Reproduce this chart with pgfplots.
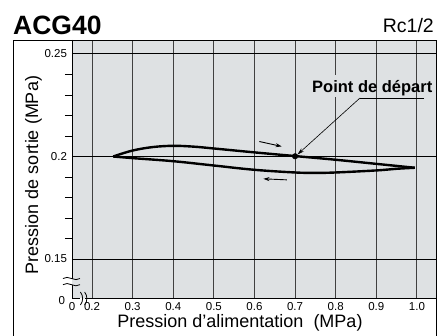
\documentclass[border=0pt]{standalone}
\usepackage{fontspec}
\setmainfont{Liberation Sans}
\usepackage{pgfplots}
\pgfplotsset{compat=1.18}
\usetikzlibrary{arrows.meta}
\definecolor{plotbg}{RGB}{222,225,227}
\begin{document}
\begin{tikzpicture}[x=1pt,y=1pt]
\useasboundingbox (0,0) rectangle (437,336);
\begin{axis}[
  at={(72pt,38pt)}, anchor=south west,
  scale only axis, width=364pt, height=258pt,
  xmin=0.1507, xmax=1.047, ymin=0.131, ymax=0.2568,
  axis background/.style={fill=plotbg},
  axis line style={draw=none},
  xtick={0.2,0.3,0.4,0.5,0.6,0.7,0.8,0.9,1.0},
  xticklabels={0.2,0.3,0.4,0.5,0.6,0.7,0.8,0.9,1.0},
  ytick={0.15,0.2,0.25},
  yticklabels={0.15,0.2,0.25},
  minor ytick={0.16,0.17,0.18,0.19,0.21,0.22,0.23,0.24},
  major tick length=0pt, minor tick length=7pt, tick align=outside,
  minor tick style={line width=0.8pt, black},
  xmajorgrids, ymajorgrids,
  x grid style={line width=0.9pt, black!75},
  y grid style={line width=0.9pt, black},
  extra x ticks={0.1507}, extra x tick labels={0},
  extra x tick style={grid=none},
  extra y ticks={0.131}, extra y tick labels={0},
  extra y tick style={grid=none, yticklabel style={yshift=-3pt, xshift=-2pt}},
  tick label style={font=\fontsize{11.5}{11.5}\selectfont},
  xticklabel style={yshift=-3pt, inner sep=1pt},
  yticklabel style={xshift=-1.5pt},
  /pgf/number format/assume math mode=true,
  clip=false,
]
% upper branch
\addplot[line width=2.4pt, black, smooth, tension=0.6] coordinates {
  (0.252,0.2000) (0.30,0.2029) (0.35,0.2046) (0.40,0.2052) (0.45,0.2048)
  (0.50,0.2039) (0.60,0.2020) (0.70,0.2002) (0.80,0.1984) (0.90,0.1964) (0.995,0.1945)
};
% lower branch
\addplot[line width=2.4pt, black, smooth, tension=0.6] coordinates {
  (0.995,0.1945) (0.95,0.1940) (0.90,0.1932) (0.80,0.1922) (0.75,0.1920) (0.70,0.1922)
  (0.60,0.1935) (0.50,0.1956) (0.40,0.1977) (0.30,0.1992) (0.252,0.2000)
};
% starting point
\addplot[only marks, mark=*, mark size=2.8pt, black] coordinates {(0.7,0.2001)};
% direction arrows
\draw[-{Stealth[length=6pt,width=4pt]}, line width=0.9pt] (axis cs:0.612,0.2073) -- (axis cs:0.667,0.2049);
\draw[-{Stealth[length=6pt,width=4pt]}, line width=0.9pt] (axis cs:0.680,0.1886) -- (axis cs:0.622,0.1891);
% axis lines with breaks
\draw[line width=0.9pt] (axis cs:0.1507,0.2568) -- (axis cs:0.1507,0.1405);
\draw[line width=0.9pt] (axis cs:0.1507,0.1375) -- (axis cs:0.1507,0.131) -- (axis cs:0.1714,0.131);
\draw[line width=0.9pt] (axis cs:0.1818,0.131) -- (axis cs:1.047,0.131);
\draw[line width=0.8pt] ([xshift=-9pt]axis cs:0.1507,0.1405) .. controls +(5pt,4pt) and +(-5pt,-4pt) .. ([xshift=8pt]axis cs:0.1507,0.1405);
\draw[line width=0.8pt] ([xshift=-9pt]axis cs:0.1507,0.1375) .. controls +(5pt,4pt) and +(-5pt,-4pt) .. ([xshift=8pt]axis cs:0.1507,0.1375);
\draw[line width=0.8pt] ([yshift=-7pt]axis cs:0.1714,0.131) .. controls +(3pt,4pt) and +(3pt,-4pt) .. ([yshift=6pt]axis cs:0.1714,0.131);
\draw[line width=0.8pt] ([yshift=-7pt]axis cs:0.1818,0.131) .. controls +(3pt,4pt) and +(3pt,-4pt) .. ([yshift=6pt]axis cs:0.1818,0.131);
\end{axis}
% frame
\draw[line width=0.9pt] (13,0) -- (13,296) -- (436,296) -- (436,0);
% gap in gridline behind label
\fill[plotbg] (332,239) rectangle (340,261);
% annotation
\node[anchor=base west, inner sep=0, font=\bfseries\fontsize{16.5}{16.5}\selectfont] at (312,243.3) {Point de départ};
\draw[line width=0.6pt] (424,238) -- (360,238);
\draw[line width=0.6pt, -{Stealth[length=7pt,width=4pt]}] (360,238) -- (297.5,181.5);
% titles
\node[anchor=base west, inner sep=0, font=\bfseries\fontsize{26.5}{26.5}\selectfont] at (13,301) {ACG40};
\node[anchor=base east, inner sep=0, font=\fontsize{19.5}{19.5}\selectfont] at (434,303) {Rc1/2};
% axis labels
\node[anchor=base, inner sep=0, font=\fontsize{18}{18}\selectfont] at (240,8.5) {Pression d'alimentation\ \ (MPa)};
\node[anchor=base, inner sep=0, rotate=90, font=\fontsize{18}{18}\selectfont] at (38,161) {Pression de sortie (MPa)};
\end{tikzpicture}
\end{document}
